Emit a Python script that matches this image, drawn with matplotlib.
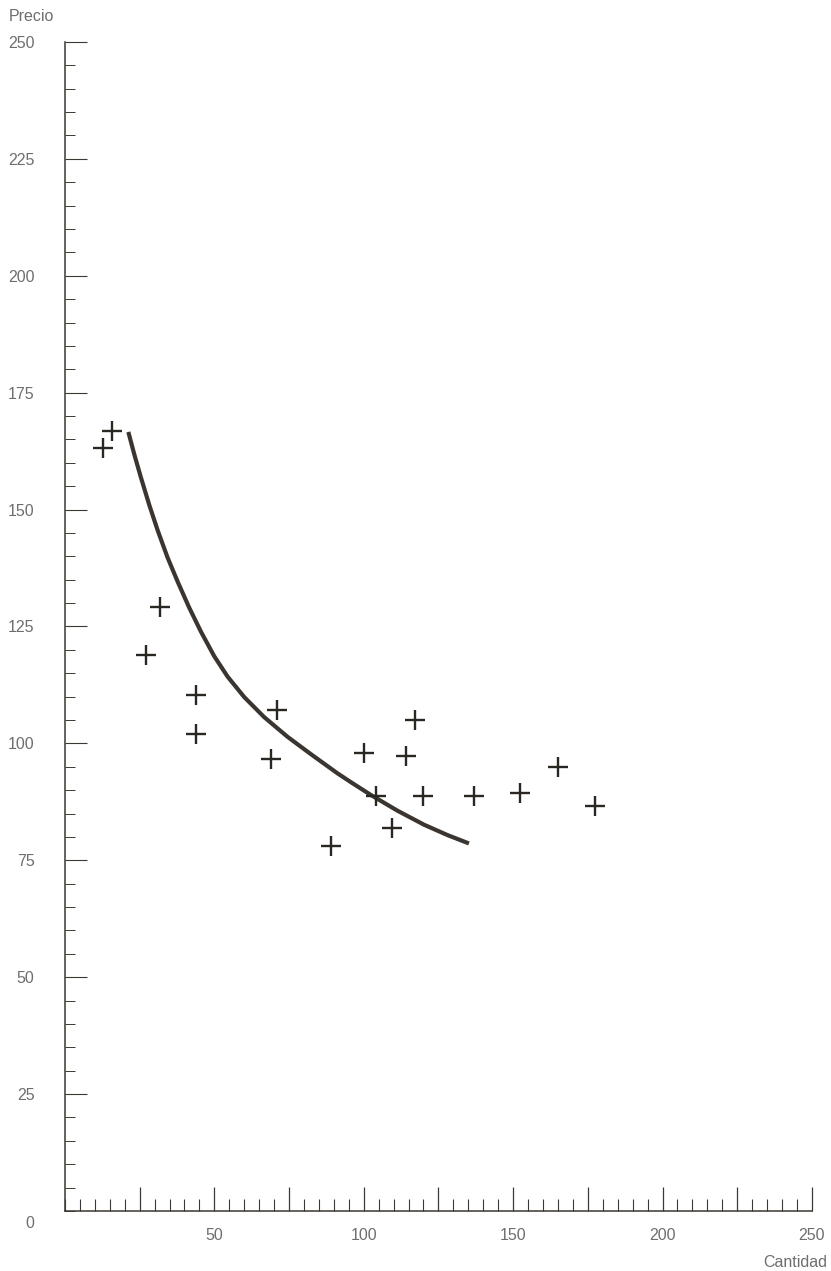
import matplotlib.pyplot as plt
from matplotlib.ticker import MultipleLocator, FixedLocator

plt.rcParams['font.family'] = ['Liberation Sans', 'DejaVu Sans']
plt.rcParams['font.size'] = 11.5

# scatter observations (cantidad, precio)
cantidad = [12.6, 15.7, 27.1, 31.9, 44.0, 44.0, 69.1, 71.1, 89.0, 100.1,
            104.0, 109.6, 114.3, 117.2, 119.8, 136.9, 152.3, 165.0, 177.4]
precio = [163.2, 166.9, 119.0, 129.2, 110.4, 101.9, 96.7, 107.1, 78.1, 97.9,
          88.7, 82.0, 97.4, 105.1, 88.7, 88.7, 89.3, 95.0, 86.6]

# demand curve
curva_x = [21.2, 23.2, 25.4, 28.2, 31.0, 34.3, 37.7, 41.6, 45.5, 49.9, 54.4,
           60.0, 66.7, 74.5, 82.3, 91.2, 95.7, 102.3, 111.3, 120.2, 128.0, 135.2]
curva_y = [166.6, 161.8, 156.9, 151.0, 145.6, 139.8, 134.6, 129.0, 123.9, 118.7, 114.3,
           109.9, 105.6, 101.4, 97.7, 93.6, 91.7, 89.0, 85.6, 82.6, 80.4, 78.6]

tick_col = '#3c3833'
text_col = '#6e6e6e'
ink = '#2a2622'

fig = plt.figure(figsize=(8.31, 12.71), dpi=100)
ax = fig.add_axes([0.0782, 0.0472, 0.977 - 0.0782, 0.967 - 0.0472])

ax.plot(curva_x, curva_y, color='#3a3530', lw=3.0, solid_capstyle='butt',
        solid_joinstyle='round')
ax.plot(cantidad, precio, ls='none', marker='+', ms=15, mew=1.7, color=ink)

ax.set_xlim(0, 250)
ax.set_ylim(0, 250)

for s in ['top', 'right']:
    ax.spines[s].set_visible(False)
for s in ['left', 'bottom']:
    ax.spines[s].set_color(tick_col)
    ax.spines[s].set_linewidth(1.1)

ax.xaxis.set_major_locator(FixedLocator([25, 50, 75, 100, 125, 150, 175, 200, 225, 250]))
ax.xaxis.set_minor_locator(MultipleLocator(5))
ax.yaxis.set_major_locator(FixedLocator([25, 50, 75, 100, 125, 150, 175, 200, 225, 250]))
ax.yaxis.set_minor_locator(MultipleLocator(5))

ax.set_xticklabels(['', '50', '', '100', '', '150', '', '200', '', '250'])
ax.tick_params(axis='x', which='major', direction='in', length=17, width=0.9,
               color=tick_col, labelcolor=text_col, pad=12.5)
ax.tick_params(axis='x', which='minor', direction='in', length=9, width=0.8, color=tick_col)
ax.tick_params(axis='y', which='major', direction='in', length=16, width=0.8,
               color=tick_col, labelcolor=text_col, pad=22)
ax.tick_params(axis='y', which='minor', direction='in', length=7.5, width=0.7, color=tick_col)

ax.annotate('0', xy=(0, 0), xycoords='axes fraction', xytext=(-31, -12),
            textcoords='offset pixels', ha='right', va='center', color=text_col)
ax.annotate('Precio', xy=(0, 1), xycoords='axes fraction', xytext=(-56, 25),
            textcoords='offset pixels', ha='left', va='center', color=text_col)
ax.annotate('Cantidad', xy=(1, 0), xycoords='axes fraction', xytext=(15, -51),
            textcoords='offset pixels', ha='right', va='center', color=text_col)

fig.savefig('out.png', dpi=100, facecolor='white')
